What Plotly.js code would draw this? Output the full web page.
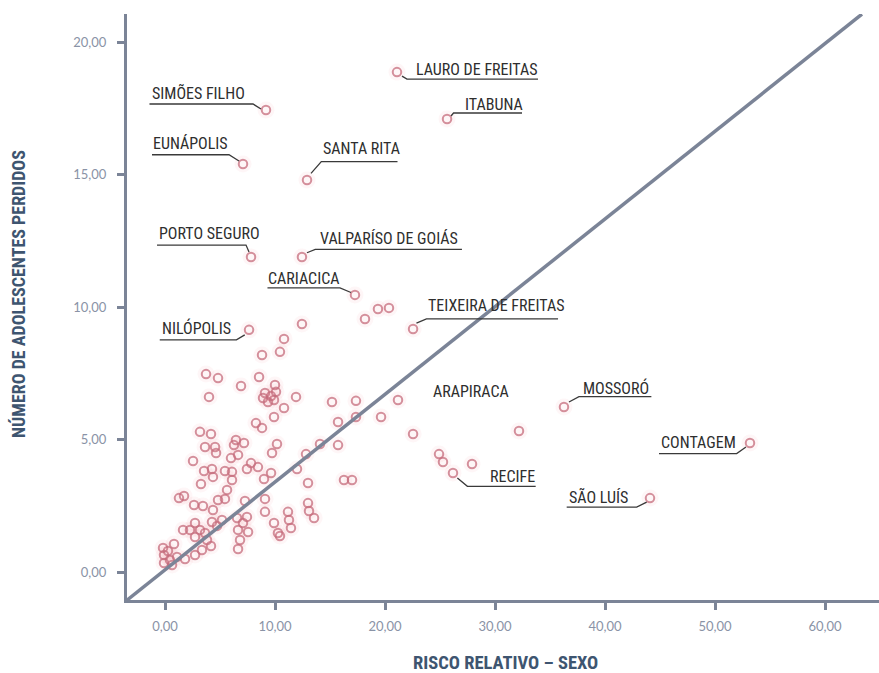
<!DOCTYPE html>
<html>
<head>
<meta charset="utf-8">
<script src="https://cdn.plot.ly/plotly-3.0.1.min.js"></script>
<style>
  html, body { margin: 0; padding: 0; background: #ffffff; }
  #chart { width: 879px; height: 673px; }
</style>
</head>
<body>
<div id="chart"></div>
<script>
// ---- DATA ----
const cityNames = ['LAURO DE FREITAS', 'ITABUNA', 'SIMÕES FILHO', 'EUNÁPOLIS', 'SANTA RITA',
  'PORTO SEGURO', 'VALPARÍSO DE GOIÁS', 'CARIACICA', 'TEIXEIRA DE FREITAS', 'NILÓPOLIS',
  'MOSSORÓ', 'CONTAGEM', 'RECIFE', 'SÃO LUÍS', 'ARAPIRACA'];
const cityRisk = [21.09, 25.64, 9.18, 7.09, 12.91, 7.82, 12.45, 17.27, 22.55, 7.64, 36.27, 53.18, 26.18, 44.09, 32.18];
const cityLost = [18.87, 17.10, 17.44, 15.40, 14.80, 11.89, 11.89, 10.46, 9.17, 9.14, 6.23, 4.87, 3.74, 2.79, 5.32];

const otherRisk = [
  19.36, 20.36, 18.18, 12.45, 10.82, 10.45, 8.82, 3.73, 4.82, 8.55, 6.91, 10.00,
  9.09, 10.09, 9.64, 8.91, 9.36, 9.91, 4.00, 11.91, 10.82, 9.91, 8.27, 8.82,
  15.18, 17.36, 21.18, 15.73, 17.36, 19.64, 3.18, 4.18, 6.45, 7.18, 14.09, 15.73,
  22.55, 24.91, 25.27, 27.91, 12.82, 12.00, 13.00, 16.27, 17.00, 3.64, 4.55, 4.64,
  6.27, 6.64, 6.00, 10.18, 9.73, 2.55, 3.55, 4.27, 4.36, 3.27, 5.45, 6.09,
  6.09, 7.82, 8.45, 7.45, 9.64, 9.00, 5.64, 1.27, 1.73, 2.64, 3.45, 4.82,
  5.45, 7.27, 9.09, 4.36, 9.09, 7.45, 6.55, 7.09, 11.18, 11.27, 11.45, 13.00,
  13.09, 13.55, 9.91, 10.27, 10.45, 2.73, 1.64, 2.27, 3.18, 3.64, 2.73, 3.82,
  4.27, 5.18, 4.73, 6.64, 7.55, 6.82, 6.64, 4.18, -0.18, 0.82, -0.09, 0.45,
  -0.09, 1.09, 1.82, 2.73, 3.36, 0.27, 0.64
];
const otherLost = [
  9.93, 9.97, 9.55, 9.36, 8.80, 8.31, 8.19, 7.47, 7.32, 7.36, 7.02, 7.06,
  6.76, 6.80, 6.64, 6.57, 6.42, 6.49, 6.61, 6.61, 6.19, 5.85, 5.62, 5.44,
  6.42, 6.46, 6.49, 5.66, 5.85, 5.85, 5.29, 5.21, 4.98, 4.87, 4.83, 4.79,
  5.21, 4.45, 4.15, 4.08, 4.45, 3.89, 3.36, 3.47, 3.47, 4.72, 4.72, 4.49,
  4.79, 4.42, 4.30, 4.83, 4.49, 4.19, 3.81, 3.89, 3.59, 3.32, 3.81, 3.78,
  3.47, 4.11, 3.96, 3.89, 3.74, 3.51, 3.10, 2.79, 2.87, 2.53, 2.49, 2.72,
  2.76, 2.68, 2.76, 2.34, 2.27, 2.08, 2.04, 1.85, 2.27, 1.96, 1.66, 2.60,
  2.30, 2.04, 1.85, 1.47, 1.36, 1.85, 1.59, 1.59, 1.59, 1.47, 1.32, 1.21,
  1.89, 1.96, 1.74, 1.59, 1.51, 1.21, 0.87, 0.98, 0.91, 1.06, 0.64, 0.45,
  0.34, 0.57, 0.49, 0.64, 0.83, 0.79, 0.26
];

// reference diagonal (risk, lost)
const diagRisk = [-3.45, 63.36];
const diagLost = [-1.06, 21.06];

const xTickVals = [0, 10, 20, 30, 40, 50, 60];
const yTickVals = [0, 5, 10, 15, 20];

const xTitle = 'RISCO RELATIVO – SEXO';
const yTitle = 'NÚMERO DE ADOLESCENTES PERDIDOS';

// ---- LABEL LAYOUT (pixel offsets from the point; +down) ----
const labelLayout = {
  'LAURO DE FREITAS':    { t: [17, -3, 'left'],   l: [[141, 7], [10, 7], [5, 4]] },
  'ITABUNA':             { t: [16, -15, 'left'],  l: [[75, -6], [6.5, -6], [4, -3]] },
  'SIMÕES FILHO':        { t: [-116, -17.5, 'left'], l: [[-116.5, -6], [-13, -6], [-5, -1]] },
  'EUNÁPOLIS':           { t: [-92, -21, 'left'], l: [[-91, -9.3], [-14, -9.3], [-4, -3]] },
  'SANTA RITA':          { t: [14, -31, 'left'],  l: [[90.5, -18.3], [14.3, -18.3], [4, -6.5]] },
  'PORTO SEGURO':        { t: [-94, -24, 'left'], l: [[-94, -12], [-5, -12], [-2, -5]] },
  'VALPARÍSO DE GOIÁS':  { t: [16, -19, 'left'],  l: [[160, -7.7], [13.3, -7.7], [5, -4.3]] },
  'CARIACICA':           { t: [-89, -16.7, 'left'], l: [[-87.5, -7], [-15, -7], [-4, -2.4]] },
  'TEIXEIRA DE FREITAS': { t: [13, -23.6, 'left'], l: [[145, -10.3], [13.4, -10.3], [3.4, -6]] },
  'NILÓPOLIS':           { t: [-89, -1.7, 'left'], l: [[-89.3, 10], [-12.6, 10], [-4.3, 5]] },
  'MOSSORÓ':             { t: [16.7, -18.7, 'left'], l: [[87.4, -10.4], [15, -10.4], [5, -5]] },
  'CONTAGEM':            { t: [-91, 0, 'left'],   l: [[-91, 10.6], [-13.3, 10.6], [-4, 4]] },
  'RECIFE':              { t: [35.4, 3.4, 'left'], l: [[82.7, 13.4], [14.4, 13.4], [4.4, 5]] },
  'SÃO LUÍS':            { t: [-82.7, -1, 'left'], l: [[-83.3, 9], [-13.3, 9], [-3.3, 4]] },
  'ARAPIRACA':           { t: [-88.3, -39.3, 'left'], l: null }
};

// ---- STYLE ----
const axisColor = '#7b8497';
const tickFontColor = '#8a93a6';
const titleColor = '#3e5570';
const labelColor = '#2e2e2e';
const labelFont = '"Liberation Sans Narrow", "Arial Narrow", "Roboto Condensed", "Liberation Sans", sans-serif';
const tickFont = '"Lato", "Open Sans", "DejaVu Sans", sans-serif';

const allRisk = otherRisk.concat(cityRisk);
const allLost = otherLost.concat(cityLost);

const traces = [
  {
    type: 'scatter', mode: 'markers', x: allRisk, y: allLost, hoverinfo: 'skip',
    marker: { symbol: 'circle', size: 17, color: 'rgba(240,110,120,0.06)', line: { width: 0 } },
    cliponaxis: false, showlegend: false
  },
  {
    type: 'scatter', mode: 'markers', x: allRisk, y: allLost,
    marker: { symbol: 'circle-open', size: 8.5, color: 'rgba(198,108,124,0.75)', line: { width: 2, color: 'rgba(198,108,124,0.75)' } },
    cliponaxis: false, showlegend: false
  },
  {
    type: 'scatter', mode: 'lines', x: diagRisk, y: diagLost, hoverinfo: 'skip',
    line: { color: axisColor, width: 3.5 }, cliponaxis: false, showlegend: false
  }
];

const annotations = [];
const shapes = [];
cityNames.forEach((name, i) => {
  const L = labelLayout[name];
  annotations.push({
    x: cityRisk[i], y: cityLost[i], xref: 'x', yref: 'y',
    text: name, showarrow: false,
    xanchor: L.t[2], yanchor: 'middle',
    xshift: L.t[0], yshift: -L.t[1],
    font: { family: labelFont, size: 16, color: labelColor }
  });
  if (L.l) {
    const pts = L.l.map(p => p[0] + ',' + (-p[1]));
    shapes.push({
      type: 'path', xref: 'x', yref: 'y',
      xsizemode: 'pixel', ysizemode: 'pixel',
      xanchor: cityRisk[i], yanchor: cityLost[i],
      path: 'M' + pts[0] + ' L' + pts[1] + ' L' + pts[2],
      line: { color: '#3a3a3a', width: 1.3 }
    });
  }
});

annotations.push({
  xref: 'paper', yref: 'paper', x: 0.503, y: -0.108, xanchor: 'center', yanchor: 'middle',
  text: '<b>' + xTitle + '</b>', showarrow: false,
  font: { family: labelFont, size: 18.5, color: titleColor }
});
annotations.push({
  xref: 'paper', yref: 'paper', x: -0.145, y: 0.522, xanchor: 'center', yanchor: 'middle',
  textangle: -90, text: '<b>' + yTitle + '</b>', showarrow: false,
  font: { family: labelFont, size: 18, color: titleColor }
});

const layout = {
  width: 879, height: 673,
  margin: { l: 127, r: 0, t: 14, b: 73 },
  paper_bgcolor: '#ffffff', plot_bgcolor: '#ffffff',
  separators: ',.',
  showlegend: false,
  xaxis: {
    range: [-3.4545, 64.909], tickvals: xTickVals, tickformat: '.2f',
    showgrid: false, zeroline: false,
    showline: true, linecolor: axisColor, linewidth: 3,
    ticks: 'outside', ticklen: 7, tickwidth: 3, tickcolor: axisColor,
    ticklabelstandoff: 5,
    tickfont: { family: tickFont, size: 13, color: tickFontColor }
  },
  yaxis: {
    range: [-1.057, 21.064], tickvals: yTickVals, tickformat: '.2f',
    showgrid: false, zeroline: false,
    showline: true, linecolor: axisColor, linewidth: 3,
    ticks: 'outside', ticklen: 7, tickwidth: 3, tickcolor: axisColor,
    ticklabelstandoff: 8,
    tickfont: { family: tickFont, size: 13, color: tickFontColor }
  },
  annotations: annotations,
  shapes: shapes
};

Plotly.newPlot('chart', traces, layout, { displayModeBar: false, staticPlot: true });
</script>
</body>
</html>
